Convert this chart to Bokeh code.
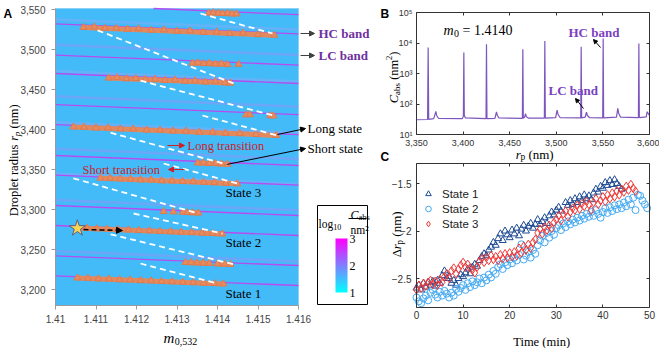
import numpy as np
from bokeh.plotting import figure
from bokeh.layouts import row, column
from bokeh.models import (Range1d, FixedTicker, LinearAxis, LogAxis, Label, Arrow,
                          NormalHead, Legend, LegendItem, LinearColorMapper)
from bokeh.embed import file_html
from bokeh.resources import INLINE

SERIF = "Liberation Serif"
SANS = "Liberation Sans"

# ---------------- Panel A: absorption map in the (m, r_p) plane ----------------
m_ticks = [1.41, 1.411, 1.412, 1.413, 1.414, 1.415, 1.416]
m_tick_labels = ["1.41", "1.411", "1.412", "1.413", "1.414", "1.415", "1.416"]
r_ticks = [3200, 3250, 3300, 3350, 3400, 3450, 3500, 3550]
r_tick_labels = ["3,200", "3,250", "3,300", "3,350", "3,400", "3,450", "3,500", "3,550"]
m_limits = [1.41, 1.416]
r_limits = [3180, 3551.25]

# resonance lines: (m, r) at their left and right ends
hc_m_left = [1.41242, 1.41, 1.41, 1.41, 1.41, 1.41, 1.41, 1.41, 1.41, 1.41, 1.41, 1.41]
hc_r_left = [3551.25, 3532, 3493, 3470, 3431, 3406, 3367.5, 3343, 3305, 3280, 3242, 3217]
hc_r_right = [3543.5, 3519.5, 3480.5, 3457.5, 3418.5, 3393.5, 3355, 3330.5, 3292.5, 3267.5, 3230, 3205]
lc_r_left = [3506, 3441.5, 3376, 3312, 3248]
lc_r_right = [3493, 3428.5, 3363, 3299, 3235]
lc2_r_left = [3537.5, 3473, 3409, 3345]
lc2_r_right = [3525, 3460, 3396, 3332]

# tracked droplet states (groups of observations)
obs_m = [
    [1.41378, 1.41390, 1.41402, 1.41413, 1.41425, 1.41436, 1.41447],
    [1.41069, 1.41096, 1.41122, 1.41150, 1.41178, 1.41205, 1.41236, 1.41268,
     1.41300, 1.41332, 1.41365, 1.41398, 1.41430, 1.41463, 1.41500, 1.41540],
    [1.41338, 1.41352, 1.41366, 1.41380, 1.41395, 1.41410, 1.41425],
    [1.41452],
    [1.41131, 1.41152, 1.41175, 1.41198, 1.41222, 1.41246, 1.41270, 1.41295,
     1.41320, 1.41345, 1.41370, 1.41395, 1.41418, 1.41432],
    [1.41471, 1.41480],
    [1.41530, 1.41538],
    [1.41044, 1.41070, 1.41100, 1.41130, 1.41160, 1.41192, 1.41225, 1.41258,
     1.41290, 1.41322, 1.41355, 1.41388, 1.41420, 1.41455, 1.41495, 1.41545],
    [1.41351, 1.41365, 1.41380, 1.41395, 1.41410, 1.41425],
    [1.41111, 1.41135, 1.41160, 1.41185, 1.41210, 1.41236, 1.41262, 1.41288,
     1.41314, 1.41340, 1.41366, 1.41392, 1.41420, 1.41449],
    [1.41267],
    [1.41291],
    [1.41314, 1.41326, 1.41338, 1.41353],
    [1.41054, 1.41078, 1.41102, 1.41128, 1.41154, 1.41180, 1.41206, 1.41232,
     1.41258, 1.41284, 1.41310, 1.41336, 1.41362, 1.41388, 1.41412],
    [1.41321, 1.41335, 1.41350, 1.41365, 1.41380],
    [1.41400, 1.41418, 1.41432],
    [1.41054, 1.41080, 1.41106, 1.41132, 1.41158, 1.41184, 1.41210, 1.41236,
     1.41262, 1.41288, 1.41314, 1.41340, 1.41366, 1.41392, 1.41415],
]
obs_r = [
    [3545.5, 3546.0, 3545.5, 3545.0, 3545.5, 3544.5, 3544.5],
    [3527.6, 3528.2, 3526.5, 3526.6, 3525.3, 3525.9, 3524.1, 3524.6,
     3522.8, 3523.3, 3521.4, 3522.0, 3520.0, 3520.6, 3518.6, 3517.8],
    [3483.0, 3483.3, 3482.4, 3482.8, 3481.8, 3482.2, 3481.1],
    [3481.5],
    [3464.3, 3464.9, 3463.4, 3463.7, 3462.4, 3462.9, 3461.4, 3462.0,
     3460.3, 3460.8, 3459.3, 3459.9, 3458.3, 3458.0],
    [3418.3, 3418.6],
    [3417.3, 3417.0],
    [3403.1, 3402.9, 3401.9, 3402.0, 3400.7, 3400.6, 3399.3, 3399.2,
     3398.0, 3397.9, 3396.6, 3396.5, 3395.3, 3395.0, 3393.7, 3392.6],
    [3358.2, 3358.4, 3357.6, 3357.8, 3357.0, 3356.6],
    [3339.2, 3339.0, 3338.2, 3338.0, 3337.1, 3337.0, 3336.0, 3335.8,
     3335.0, 3334.8, 3333.9, 3333.5, 3332.8, 3332.1],
    [3297.5],
    [3297.0],
    [3296.6, 3296.3, 3296.0, 3295.6],
    [3276.9, 3276.6, 3275.9, 3275.6, 3274.8, 3274.5, 3273.7, 3273.4,
     3272.6, 3272.3, 3271.5, 3271.2, 3270.5, 3270.1, 3269.4],
    [3233.8, 3233.6, 3233.2, 3233.0, 3232.6],
    [3232.0, 3231.6, 3231.4],
    [3214.4, 3214.0, 3213.3, 3213.0, 3212.2, 3211.9, 3211.1, 3210.8,
     3210.0, 3209.7, 3209.0, 3208.6, 3207.9, 3207.5, 3206.9],
]

# transitions between states
trans_m0 = [1.41358, 1.41104, 1.41210, 1.41363, 1.41136, 1.41267, 1.41044, 1.41193, 1.41136, 1.41210]
trans_r0 = [3545.0, 3524.0, 3461.0, 3417.5, 3396.0, 3357.5, 3339.0, 3295.0, 3269.0, 3232.5]
trans_m1 = [1.41536, 1.41440, 1.41538, 1.41548, 1.41425, 1.41449, 1.41353, 1.41412, 1.41444, 1.41400]
trans_r1 = [3520.0, 3457.5, 3417.5, 3392.5, 3356.0, 3332.5, 3295.0, 3270.0, 3231.0, 3207.5]

start_m = [1.41054]
start_r = [3276.5]

# ---------------- Panel B: spectrum at m0 = 1.4140 ----------------
spec_r = [3350, 3361.9, 3362.5, 3363.1, 3368.5, 3369.8, 3370.7, 3371.6, 3373.5,
          3399.0, 3400.3, 3400.8, 3401.3, 3402.5, 3424.6, 3425.1, 3425.6,
          3434.2, 3435.1, 3435.8, 3436.7, 3438.5, 3463.6, 3464.1, 3464.6,
          3466.0, 3467.0, 3467.9, 3470.0, 3487.2, 3487.7, 3488.2,
          3499.3, 3500.2, 3500.9, 3501.8, 3504.0, 3526.2, 3526.7, 3527.2,
          3531.0, 3531.8, 3532.4, 3533.3, 3535.5, 3549.8, 3550.3, 3550.8,
          3564.6, 3565.4, 3566.0, 3566.9, 3569.0, 3588.1, 3588.6, 3589.1,
          3596.5, 3597.5, 3598.4, 3600]
spec_c = [30.5, 31, 7100, 31.5, 33, 45, 57, 42, 34,
          33, 40, 4900, 42, 35, 33, 9100, 33,
          34, 45, 55, 42, 35, 34, 6200, 34,
          37, 48, 38, 34.5, 34.5, 11700, 34.5,
          36, 50, 63, 46, 36, 35, 7500, 35,
          37, 47, 54, 42, 36, 35, 14100, 35,
          37, 55, 72, 50, 37, 36, 9600, 36,
          38, 56, 50, 42]
b_x_limits = [3350, 3600]
b_y_limits = [10, 100000]
b_x_ticks = [3350, 3400, 3450, 3500, 3550, 3600]
b_x_labels = ["3,350", "3,400", "3,450", "3,500", "3,550", "3,600"]
b_y_ticks = [10, 100, 1000, 10000, 100000]
b_y_labels = ["10¹", "10²", "10³", "10⁴", "10⁵"]

# ---------------- Panel C: radius drift of the three states ----------------
t1 = [0.0, 0.5, 1.0, 1.5, 2.0, 2.5, 3.0, 3.5, 4.0, 4.5, 5.0, 5.5, 6.0, 6.5, 7.0, 7.5,
      8.0, 8.5, 9.0, 9.5, 10.0, 10.5, 11.0, 11.5, 12.0, 12.5, 13.0, 13.5, 14.0, 14.5,
      15.0, 15.5, 16.0, 16.5, 17.0, 17.5, 18.0, 18.5, 19.0, 19.5, 20.0, 20.5, 21.0,
      21.5, 22.0, 22.5, 23.0, 23.5, 24.0, 24.5, 25.0, 25.5, 26.0, 26.5, 27.0, 27.5,
      28.0, 28.5, 29.0, 29.5, 30.0, 30.5, 31.0, 32.0, 32.5, 33.0, 33.5, 34.0, 34.5,
      35.0, 35.5, 36.0, 36.5, 37.0, 37.5, 38.0, 38.5, 39.0, 39.5, 40.0, 40.5, 41.0,
      41.5, 42.0, 42.5, 43.0, 43.5, 44.0]
d1 = [-2.60, -2.57, -2.62, -2.55, -2.59, -2.54, -2.57, -2.53, -2.58, -2.52, -2.55, -2.47,
      -2.42, -2.50, -2.48, -2.55, -2.52, -2.57, -2.50, -2.46, -2.48, -2.44, -2.40, -2.45,
      -2.38, -2.35, -2.37, -2.31, -2.27, -2.24, -2.26, -2.20, -2.17, -2.12, -2.15, -2.08,
      -2.03, -2.10, -2.00, -2.04, -2.07, -1.99, -2.03, -1.97, -2.05, -1.98, -1.94, -2.00,
      -1.95, -1.92, -1.97, -1.93, -1.88, -1.93, -1.90, -1.86, -1.92, -1.84, -1.80, -1.83,
      -1.78, -1.75, -1.79, -1.70, -1.73, -1.68, -1.72, -1.66, -1.70, -1.64, -1.68, -1.62,
      -1.66, -1.63, -1.67, -1.60, -1.56, -1.59, -1.53, -1.55, -1.49, -1.52, -1.47, -1.51,
      -1.46, -1.50, -1.53, -1.56]
t2 = [0.0, 0.5, 1.0, 1.5, 2.0, 2.5, 3.0, 3.5, 4.0, 4.5, 5.0, 5.5, 6.0, 6.5, 7.0, 7.5,
      8.0, 8.5, 9.0, 9.5, 10.0, 10.5, 11.0, 11.5, 12.0, 12.5, 13.0, 13.5, 14.0, 14.5,
      15.0, 15.5, 16.0, 16.5, 17.0, 17.5, 18.0, 18.5, 19.0, 19.5, 20.0, 20.5, 21.0,
      21.5, 22.0, 22.5, 23.0, 23.5, 24.0, 24.5, 25.0, 25.5, 26.0, 26.5, 27.0, 27.5,
      28.0, 28.5, 29.0, 29.5, 30.0, 30.5, 31.0, 31.5, 32.0, 32.5, 33.0, 33.5, 34.0,
      34.5, 35.0, 35.5, 36.0, 36.5, 37.0, 37.5, 38.0, 38.5, 39.0, 39.5, 40.0, 40.5,
      41.0, 41.5, 42.0, 42.5, 43.0, 43.5, 44.0, 44.5, 45.0, 45.5, 46.0, 46.5, 47.0,
      47.5, 48.0, 48.5, 49.0, 49.5]
d2 = [-2.70, -2.74, -2.76, -2.71, -2.68, -2.73, -2.65, -2.62, -2.67, -2.70, -2.64, -2.68,
      -2.63, -2.66, -2.70, -2.65, -2.68, -2.61, -2.64, -2.60, -2.57, -2.62, -2.55, -2.59,
      -2.53, -2.57, -2.54, -2.50, -2.55, -2.49, -2.52, -2.46, -2.49, -2.42, -2.45, -2.38,
      -2.35, -2.40, -2.33, -2.36, -2.30, -2.34, -2.28, -2.31, -2.25, -2.14, -2.30, -2.26,
      -2.22, -2.28, -2.20, -2.24, -2.15, -2.10, -2.05, -2.12, -2.02, -2.07, -2.00, -2.04,
      -1.97, -1.94, -1.99, -1.92, -1.96, -1.90, -1.93, -1.88, -1.91, -1.86, -1.89, -1.84,
      -1.87, -1.82, -1.85, -1.80, -1.84, -1.78, -1.82, -1.86, -1.80, -1.76, -1.81, -1.75,
      -1.79, -1.73, -1.77, -1.72, -1.76, -1.70, -1.74, -1.67, -1.72, -1.65, -1.78, -1.62,
      -1.63, -1.68, -1.72, -1.76]
t3 = [0.0, 0.5, 1.0, 1.5, 2.0, 2.5, 3.0, 3.5, 4.0, 4.5, 5.0, 5.5, 6.0, 6.5, 7.0, 7.5,
      8.0, 8.5, 9.0, 9.5, 10.0, 10.5, 11.0, 11.5, 12.0, 12.5, 13.0, 13.5, 14.0, 14.5,
      15.0, 15.5, 16.0, 16.5, 17.0, 17.5, 18.0, 18.5, 19.0, 19.5, 20.0, 20.5, 21.0,
      21.5, 22.0, 22.5, 23.0, 23.5, 24.0, 24.5, 25.0, 25.5, 26.0, 26.5, 27.0, 27.5,
      28.0, 28.5, 29.0, 29.5, 30.0, 30.5, 31.0, 31.5, 32.0, 32.5, 33.0, 33.5, 34.0,
      34.5, 35.0, 35.5, 36.0, 36.5, 37.0, 37.5, 38.0, 38.5, 39.0, 39.5, 40.0, 40.5,
      41.0, 41.5, 42.0, 42.5, 43.0, 43.5, 44.0, 44.5, 45.0, 45.5, 46.0, 46.5, 47.0]
d3 = [-2.62, -2.57, -2.60, -2.55, -2.58, -2.54, -2.52, -2.56, -2.53, -2.57, -2.51, -2.54,
      -2.48, -2.45, -2.50, -2.42, -2.39, -2.45, -2.40, -2.36, -2.33, -2.38, -2.35, -2.39,
      -2.41, -2.44, -2.38, -2.32, -2.29, -2.33, -2.28, -2.31, -2.26, -2.30, -2.27, -2.31,
      -2.25, -2.29, -2.24, -2.28, -2.23, -2.27, -2.22, -2.26, -2.18, -2.23, -2.16, -2.20,
      -2.14, -2.18, -2.12, -2.09, -2.02, -1.98, -2.03, -1.96, -1.99, -1.94, -1.97, -1.91,
      -1.88, -1.84, -1.89, -1.82, -1.79, -1.85, -1.80, -1.76, -1.78, -1.73, -1.77, -1.71,
      -1.74, -1.69, -1.72, -1.78, -1.70, -1.66, -1.72, -1.68, -1.64, -1.69, -1.62, -1.66,
      -1.60, -1.64, -1.58, -1.62, -1.56, -1.59, -1.53, -1.57, -1.51, -1.55, -1.58]
c_x_limits = [0, 50]
c_y_limits = [-2.805, -1.2895]
c_x_ticks = [0, 10, 20, 30, 40, 50]
c_x_labels = ["0", "10", "20", "30", "40", "50"]
c_y_ticks = [-2.5, -2, -1.5]
c_y_labels = ["\u22122.5", "\u22122", "\u22121.5"]

# ---------------- helpers ----------------
# page-pixel -> data converters for each panel; each figure's frame fills its canvas
def ax(px): return 1.41 + (px - 55) * 0.006 / 243
def ay(py): return 3180 + (305 - py) / 0.8
def bx(px): return 3350 + (px - 416) * 250 / 233
def by(py): return 10 ** (5 - (py - 12) * 4 / 122)
def cx(px): return (px - 416) * 50 / 233
def cy(py): return -1.5 - (py - 183) / 95

EM = {" ": 0.25, "D": 0.722, "r": 0.36, "o": 0.5, "p": 0.5, "l": 0.278, "e": 0.444,
      "t": 0.278, "a": 0.444, "d": 0.5, "i": 0.278, "u": 0.5, "s": 0.389, "(": 0.333,
      ")": 0.333, "n": 0.5, "m": 0.75, "T": 0.611, "C": 0.667, "b": 0.5, "g": 0.5,
      ",": 0.25, ".": 0.25, "=": 0.564, "\u0394": 0.612}

def tw(s, size):
    return sum(EM.get(ch, 0.5) for ch in s) * size

def put(p, fx, fy, px, py, text, size, style="normal", color="black", font=SERIF,
        angle=0.0, baseline="alphabetic", align="left"):
    p.add_layout(Label(x=fx(px), y=fy(py), text=text, angle=angle, text_font=font,
                       text_font_size=f"{size}px", text_font_style=style,
                       text_color=color, text_baseline=baseline, text_align=align))

def rich(p, fx, fy, px, py, pieces, vertical=False, color="black", center=False):
    """Lay out a run of differently styled pieces (italic symbols, sub/superscripts)."""
    total = sum(tw(t, s) for t, s, _, _ in pieces)
    pos = -total / 2 if center else 0.0
    for text, size, style, shift in pieces:
        lead = len(text) - len(text.lstrip(" "))
        body = text.strip(" ")
        start = pos + lead * EM[" "] * size
        if vertical:
            put(p, fx, fy, px + shift, py - start, body, size, style, color, angle=np.pi / 2)
        else:
            put(p, fx, fy, px + start, py + shift, body, size, style, color)
        pos += tw(text, size)

def arrow(p, x0, y0, x1, y1, color="black", size=5, width=1.0, dash="solid"):
    p.add_layout(Arrow(x_start=x0, y_start=y0, x_end=x1, y_end=y1, line_color=color,
                       line_width=width, line_dash=dash,
                       end=NormalHead(size=size, fill_color=color, line_color=color,
                                      line_width=1)))

def make_axis(cls, ticks, labels, loc, bounds, size, standoff, t_in, t_out,
              line="#333333", label="#333333", show_labels=True):
    a = cls(ticker=FixedTicker(ticks=ticks), fixed_location=loc, bounds=tuple(bounds))
    if labels is not None:
        a.major_label_overrides = dict(zip(ticks, labels))
    a.major_label_text_font = SANS
    a.major_label_text_font_size = f"{size}px"
    a.major_label_text_color = label if show_labels else None
    a.major_label_standoff = standoff
    a.major_tick_in = t_in
    a.major_tick_out = t_out
    a.minor_tick_in = 0
    a.minor_tick_out = 0
    a.axis_line_color = line
    a.major_tick_line_color = line
    return a

def canvas_fig(w, h, xr, yr, **kw):
    p = figure(width=w, height=h, x_range=Range1d(*xr), y_range=Range1d(*yr),
               output_backend="svg", toolbar_location=None, x_axis_location=None,
               y_axis_location=None, min_border=0, **kw)
    p.grid.visible = False
    p.outline_line_color = None
    return p

# ---------------- Panel A ----------------
pA = canvas_fig(378, 348, (ax(0), ax(378)), (ay(348), ay(0)))
pA.add_layout(make_axis(LinearAxis, m_ticks, m_tick_labels, r_limits[0], m_limits,
                        10, 5, 0, 4, line="#9A9A9A", label="#444444"), "below")
pA.add_layout(make_axis(LinearAxis, r_ticks, r_tick_labels, m_limits[0], r_limits,
                        10, 6, 0, 4, line="#9A9A9A", label="#444444"), "left")

pA.quad(left=[m_limits[0]], right=[m_limits[1]], bottom=[r_limits[0]], top=[r_limits[1]],
        fill_color="#43BBF8", line_color="#8AD2F6", line_width=1)
n = len(lc2_r_left)
pA.segment(x0=[m_limits[0]] * n, y0=lc2_r_left, x1=[m_limits[1]] * n, y1=lc2_r_right,
           line_color="#9AA6FA", line_alpha=0.4, line_width=2.5)
n = len(lc_r_left)
pA.segment(x0=[m_limits[0]] * n, y0=lc_r_left, x1=[m_limits[1]] * n, y1=lc_r_right,
           line_color="#8E96FA", line_alpha=0.55, line_width=2.5)
n = len(hc_r_left)
pA.segment(x0=hc_m_left, y0=hc_r_left, x1=[m_limits[1]] * n, y1=hc_r_right,
           line_color="#B84CF2", line_width=1.3)

band_x0 = [g[0] for g in obs_m]
band_x1 = [g[-1] for g in obs_m]
band_y0 = [g[0] for g in obs_r]
band_y1 = [g[-1] for g in obs_r]
pA.segment(x0=band_x0, y0=band_y0, x1=band_x1, y1=band_y1,
           line_color="#E28A5E", line_width=5)
pA.scatter(x=[v for g in obs_m for v in g], y=[v for g in obs_r for v in g],
           marker="triangle", size=7, fill_color="#E88B5E", line_color="#DD7A4F",
           line_width=1)
pA.segment(x0=trans_m0, y0=trans_r0, x1=trans_m1, y1=trans_r1,
           line_color="white", line_width=1.8, line_dash="6 4")
arrow(pA, ax(83), ay(229), ax(122), ay(230), color="black", size=6, width=1.5, dash="5 3")
pA.scatter(x=start_m, y=start_r, marker="star", size=17, fill_color="#F8D554",
           line_color="#5C5F80", line_width=1)

# annotations of panel A
ann = dict(baseline="middle")
put(pA, ax, ay, 318, 33, "HC band", 13, "bold", "#7030A0", **ann)
put(pA, ax, ay, 318, 55, "LC band", 13, "bold", "#7030A0", **ann)
arrow(pA, ax(300), ay(33), ax(314), ay(33), color="#404040", size=5)
arrow(pA, ax(300), ay(55), ax(314), ay(55), color="#404040", size=5)
put(pA, ax, ay, 307, 128, "Long state", 13, **ann)
put(pA, ax, ay, 307, 148, "Short state", 13, **ann)
arrow(pA, ax(277), ay(134), ax(305), ay(128), size=5)
arrow(pA, ax(226), ay(164), ax(305), ay(148), size=5)
put(pA, ax, ay, 187, 145, "Long transition", 12.5, "normal", "#CC2229", **ann)
put(pA, ax, ay, 82, 169, "Short transition", 12.5, "normal", "#CC2229", **ann)
arrow(pA, ax(167), ay(145), ax(184), ay(145), color="#CC2229", size=5)
arrow(pA, ax(184), ay(169), ax(168), ay(169), color="#CC2229", size=5)
put(pA, ax, ay, 225, 192, "State 3", 13, **ann)
put(pA, ax, ay, 225, 242, "State 2", 13, **ann)
put(pA, ax, ay, 225, 293, "State 1", 13, **ann)

# colour scale of the map
cool = [f"#{i:02x}{255 - i:02x}ff" for i in range(256)]
pA.quad(left=[ax(317)], right=[ax(367)], top=[ay(205)], bottom=[ay(304)],
        fill_color="white", line_color="black", line_width=1)
ramp = np.linspace(1, 3, 120).reshape(120, 1)
pA.image(image=[ramp], x=ax(335), y=ay(292), dw=ax(347) - ax(335), dh=ay(238) - ay(292),
         color_mapper=LinearColorMapper(palette=cool, low=1, high=3))
for v in (1, 2, 3):
    put(pA, ax, ay, 349, 292 - (v - 1) * 27, str(v), 12, **ann)
rich(pA, ax, ay, 318, 223, [("log", 11.5, "normal", 0), ("10", 8, "normal", 3)])
rich(pA, ax, ay, 350, 214, [("C", 12, "italic", 0), ("abs", 8.5, "normal", 2.5)])
pA.segment(x0=[ax(348)], y0=[ay(218)], x1=[ax(366)], y1=[ay(218)],
           line_color="black", line_width=1)
put(pA, ax, ay, 350, 229, "nm\u00b2", 11.5)

# axis titles and panel letter
rich(pA, ax, ay, 163, 337, [("m", 15, "italic", 0), ("0,532", 10, "normal", 4)])
rich(pA, ax, ay, 13, 160, [("Droplet radius ", 12.5, "normal", 0), ("r", 12.5, "italic", 0),
                           ("p", 9, "italic", 3), (" (nm)", 12.5, "normal", 0)],
     vertical=True, center=True)
put(pA, ax, ay, 3, 13, "A", 12, "bold", font=SANS)

# ---------------- Panel B ----------------
pB = canvas_fig(281, 162, (bx(378), bx(659)), (by(162), by(0)), y_axis_type="log")
pB.add_layout(make_axis(LinearAxis, b_x_ticks, b_x_labels, b_y_limits[0], b_x_limits,
                        9, 5, 3, 0), "below")
pB.add_layout(make_axis(LogAxis, b_y_ticks, b_y_labels, b_x_limits[0], b_y_limits,
                        9, 4, 3, 0), "left")
pB.add_layout(make_axis(LinearAxis, b_x_ticks, None, b_y_limits[1], b_x_limits,
                        9, 5, 3, 0, show_labels=False), "above")
pB.add_layout(make_axis(LogAxis, b_y_ticks, None, b_x_limits[1], b_y_limits,
                        9, 4, 3, 0, show_labels=False), "right")

pB.line(spec_r, spec_c, line_color="#7D55BE", line_width=1.2)

rich(pB, bx, by, 443, 30, [("m", 14, "italic", 0), ("0", 10, "normal", 3),
                           (" = 1.4140", 14, "normal", 0)])
put(pB, bx, by, 568, 32, "HC band", 13, "bold", "#7B3FBF", baseline="middle")
put(pB, bx, by, 548, 90, "LC band", 13, "bold", "#7B3FBF", baseline="middle")
arrow(pB, bx(600), by(47), bx(593), by(39), size=4)
arrow(pB, bx(583), by(108), bx(575), by(98), size=4)
rich(pB, bx, by, 534, 154, [("r", 13, "italic", 0), ("p", 9.5, "normal", 2.5),
                            (" (nm)", 13, "normal", 0)], center=True)
rich(pB, bx, by, 393, 77, [("C", 12.5, "italic", 0), ("abs", 9, "normal", 3),
                           (" (nm", 12.5, "normal", 0), ("2", 8.5, "normal", -5),
                           (")", 12.5, "normal", 0)], vertical=True, center=True)
put(pB, bx, by, 380, 13, "B", 12, "bold", font=SANS)
put(pB, bx, by, 380, 156, "C", 12, "bold", font=SANS)

# ---------------- Panel C ----------------
pC = canvas_fig(281, 186, (cx(378), cx(659)), (cy(348), cy(162)))
pC.add_layout(make_axis(LinearAxis, c_x_ticks, c_x_labels, c_y_limits[0], c_x_limits,
                        10, 4, 3, 0), "below")
pC.add_layout(make_axis(LinearAxis, c_y_ticks, c_y_labels, c_x_limits[0], c_y_limits,
                        10, 5, 3, 0), "left")
pC.add_layout(make_axis(LinearAxis, c_x_ticks, None, c_y_limits[1], c_x_limits,
                        10, 4, 3, 0, show_labels=False), "above")
pC.add_layout(make_axis(LinearAxis, c_y_ticks, None, c_x_limits[1], c_y_limits,
                        10, 5, 3, 0, show_labels=False), "right")

r1 = pC.scatter(t1, d1, marker="triangle", size=7, fill_color=None,
                line_color="#1F4C94", line_width=1)
r2 = pC.scatter(t2, d2, marker="circle", size=7, fill_color=None,
                line_color="#45AAF2", line_width=1)
r3 = pC.scatter(t3, d3, marker="diamond", size=8.5, fill_color=None,
                line_color="#F03A3A", line_width=1)
legend = Legend(items=[LegendItem(label="State 1", renderers=[r1]),
                       LegendItem(label="State 2", renderers=[r2]),
                       LegendItem(label="State 3", renderers=[r3])],
                location=(43, 117), label_text_font=SANS, label_text_font_size="11.5px",
                label_text_color="#222222", glyph_width=14, glyph_height=15,
                label_height=15, spacing=0, padding=0, margin=0, label_standoff=7,
                border_line_color=None, background_fill_alpha=0)
pC.add_layout(legend)

rich(pC, cx, cy, 541, 341, [("Time (min)", 12.5, "normal", 0)], center=True)
rich(pC, cx, cy, 396, 234, [("\u0394", 13, "normal", 0), ("r", 13, "italic", 0),
                            ("p", 9.5, "normal", 3), (" (nm)", 13, "normal", 0)],
     vertical=True, center=True)

layout = row(pA, column(pB, pC))
open("out.html", "w").write(file_html(layout, INLINE))
